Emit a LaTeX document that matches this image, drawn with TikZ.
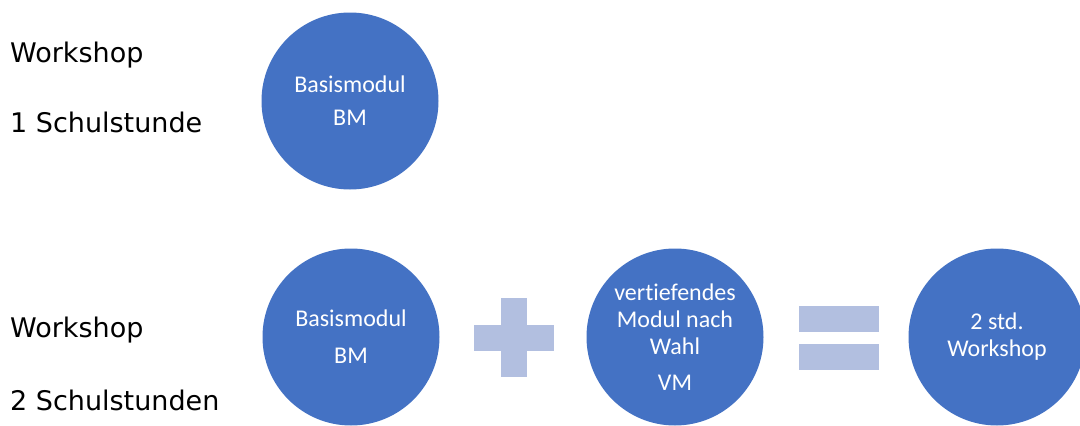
\documentclass[tikz,border=0pt]{standalone}
\usepackage{fontspec}
\setmainfont[Ligatures=NoCommon]{Carlito}
\newfontfamily\labelfont{DejaVu Sans}
\definecolor{circblue}{HTML}{4472C4}
\definecolor{opblue}{HTML}{B2BFE0}
\begin{document}
\begin{tikzpicture}[x=1pt,y=-1pt,
  modul/.style={circle,fill=circblue,draw=none,minimum size=177pt,inner sep=0pt,text=white,align=center,font=\fontsize{24}{27}\selectfont},
  sidelabel/.style={anchor=base west,inner sep=0pt,font=\labelfont\fontsize{27}{32}\selectfont,text=black},
  opbar/.style={fill=opblue,draw=none}]
\clip (0,0) rectangle (1080,426);
\fill[white] (0,0) rectangle (1080,426);
% left labels
\node[sidelabel] (w1) at (10,62) {Workshop};
\node[sidelabel] (s1) at (10,132) {1 Schulstunde};
\node[sidelabel] (w2) at (10,337) {Workshop};
\node[sidelabel] (s2) at (10,410) {2 Schulstunden};
% circles
\node[modul] (bm1) at (350,101) {Basismodul\\[6pt]BM};
\node[modul] (bm2) at (351,337) {Basismodul\\[10pt]BM};
\node[modul] (vm) at (675,337) {vertiefendes\\Modul nach\\Wahl\\[9pt]VM};
\node[modul] (ws) at (997,337) {2 std.\\Workshop};
% plus sign
\fill[opbar] (474,325) rectangle (554,351);
\fill[opbar] (501,298) rectangle (527,377);
% equals sign
\fill[opbar] (799,306) rectangle (879,332);
\fill[opbar] (799,344) rectangle (879,370);
\end{tikzpicture}
\end{document}
